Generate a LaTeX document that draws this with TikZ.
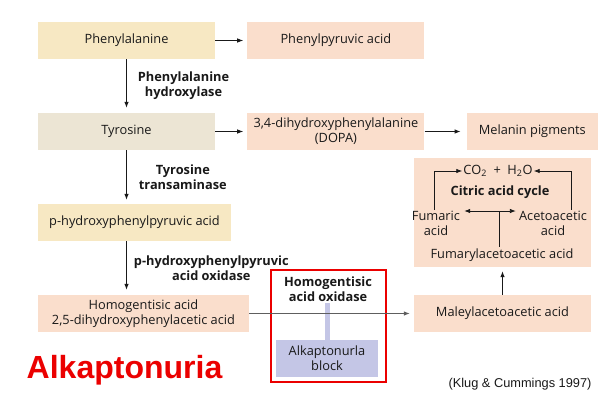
\documentclass[tikz,border=0pt]{standalone}
\usepackage{fontspec}
\setmainfont{Open Sans}
\newfontfamily\arialfont{Liberation Sans}
\usetikzlibrary{arrows.meta,positioning}
\definecolor{ink}{RGB}{25,25,25}
\definecolor{wheat}{RGB}{247,232,195}
\definecolor{blush}{RGB}{250,222,204}
\definecolor{oat}{RGB}{236,229,212}
\definecolor{lilac}{RGB}{196,198,230}
\definecolor{alarm}{RGB}{235,0,0}
\tikzset{
  stage/.style={minimum width=177pt,minimum height=37pt,inner sep=2pt,align=center,
    font=\fontsize{12.8}{15}\selectfont,text=ink},
  enz/.style={align=center,font=\bfseries\fontsize{12.8}{15}\selectfont,text=ink,inner sep=1pt},
  txt/.style={align=center,font=\fontsize{12.8}{15}\selectfont,text=ink,inner sep=1pt},
  arr/.style={-{Latex[length=6pt,width=4.5pt]},ink,line width=0.8pt},
}

\begin{document}
\begin{tikzpicture}[x=1pt,y=-1pt]
  \useasboundingbox (0,0) rectangle (600,400);
  % main pathway
  \node[stage,fill=wheat] (phe) at (126.5,40.5) {Phenylalanine};
  \node[stage,fill=blush,right=32pt of phe] (ppa) {Phenylpyruvic acid};
  \node[stage,fill=oat] (tyr) at (126.5,131.5) {Tyrosine};
  \node[stage,fill=blush,right=32pt of tyr] (dopa) {3,4-dihydroxyphenylalanine\\(DOPA)};
  \node[stage,fill=blush,minimum width=131pt,right=42pt of dopa] (mel) {Melanin pigments};
  \node[stage,fill=wheat,minimum width=193pt] (hpp) at (134.5,222.5) {p-hydroxyphenylpyruvic acid};
  \node[stage,fill=blush,minimum width=211pt] (hga) at (143.5,313.5) {Homogentisic acid\\2,5-dihydroxyphenylacetic acid};
  \node[stage,fill=blush] (maa) at (502.5,313.5) {Maleylacetoacetic acid};

  \draw[arr,shorten >=4pt] (phe) -- (ppa);
  \draw[arr,shorten >=4pt] (tyr) -- (dopa);
  \draw[arr,shorten >=6pt] (dopa) -- (mel);
  \draw[arr,shorten >=5pt] (phe.south) -- node[enz,right=10pt]{Phenylalanine\\hydroxylase} (tyr.north);
  \draw[arr,shorten >=4pt] (tyr.south) -- node[enz,right=11pt]{Tyrosine\\transaminase} (tyr.south |- hpp.north);
  \draw[arr,shorten >=5pt] (hpp.south -| tyr) -- node[enz,right=6pt]{p-hydroxyphenylpyruvic\\acid oxidase} (hga.north -| tyr);

  % citric acid cycle
  \node[stage,fill=blush,minimum height=109pt] (cyc) at (502.5,212.5) {};
  \node[txt] (co2) at (498,171) {CO\textsubscript{2}\ \ +\ \ H\textsubscript{2}O};
  \node[enz] (cac) at (500,192) {Citric acid cycle};
  \node[txt] (fum) at (436,223) {Fumaric\\acid};
  \node[txt] (aca) at (553,223) {Acetoacetic\\acid};
  \node[txt] (faa) at (502,255) {Fumarylacetoacetic acid};
  \coordinate (split) at (499,211);
  \draw[arr] ([xshift=-2pt]fum.north) |- (co2);
  \draw[arr] ([xshift=18pt]aca.north) |- (co2);
  \draw[arr,shorten >=3pt] (split) -- (fum.east |- split);
  \draw[arr,shorten >=2pt] (split) -- (aca.west |- split);
  \draw[ink,line width=0.8pt] (split) -- (faa.north -| split);
  \draw[arr,shorten >=4pt] (maa) -- (cyc);

  % the block
  \node[draw=alarm,line width=2pt,minimum width=115pt,minimum height=112pt,inner sep=0pt] (blk) at (328.5,326) {};
  \node[enz] (hgo) at (328,289) {Homogentisic\\acid oxidase};
  \node[stage,fill=lilac,minimum width=102pt] (alk) at (327,358.5) {Alkaptonurla\\block};
  \draw[lilac,line width=5pt] (alk.north) -- (alk.north |- hgo.south);
  \draw[arr,draw=ink!70,shorten >=4pt] (hga) -- (maa);

  \node[font=\arialfont\bfseries\fontsize{32}{36}\selectfont,text=alarm] (title) at (124.5,370) {Alkaptonuria};
  \node[font=\arialfont\fontsize{12.8}{14}\selectfont,text=ink] (cite) at (520,384) {(Klug \& Cummings 1997)};
\end{tikzpicture}
\end{document}
